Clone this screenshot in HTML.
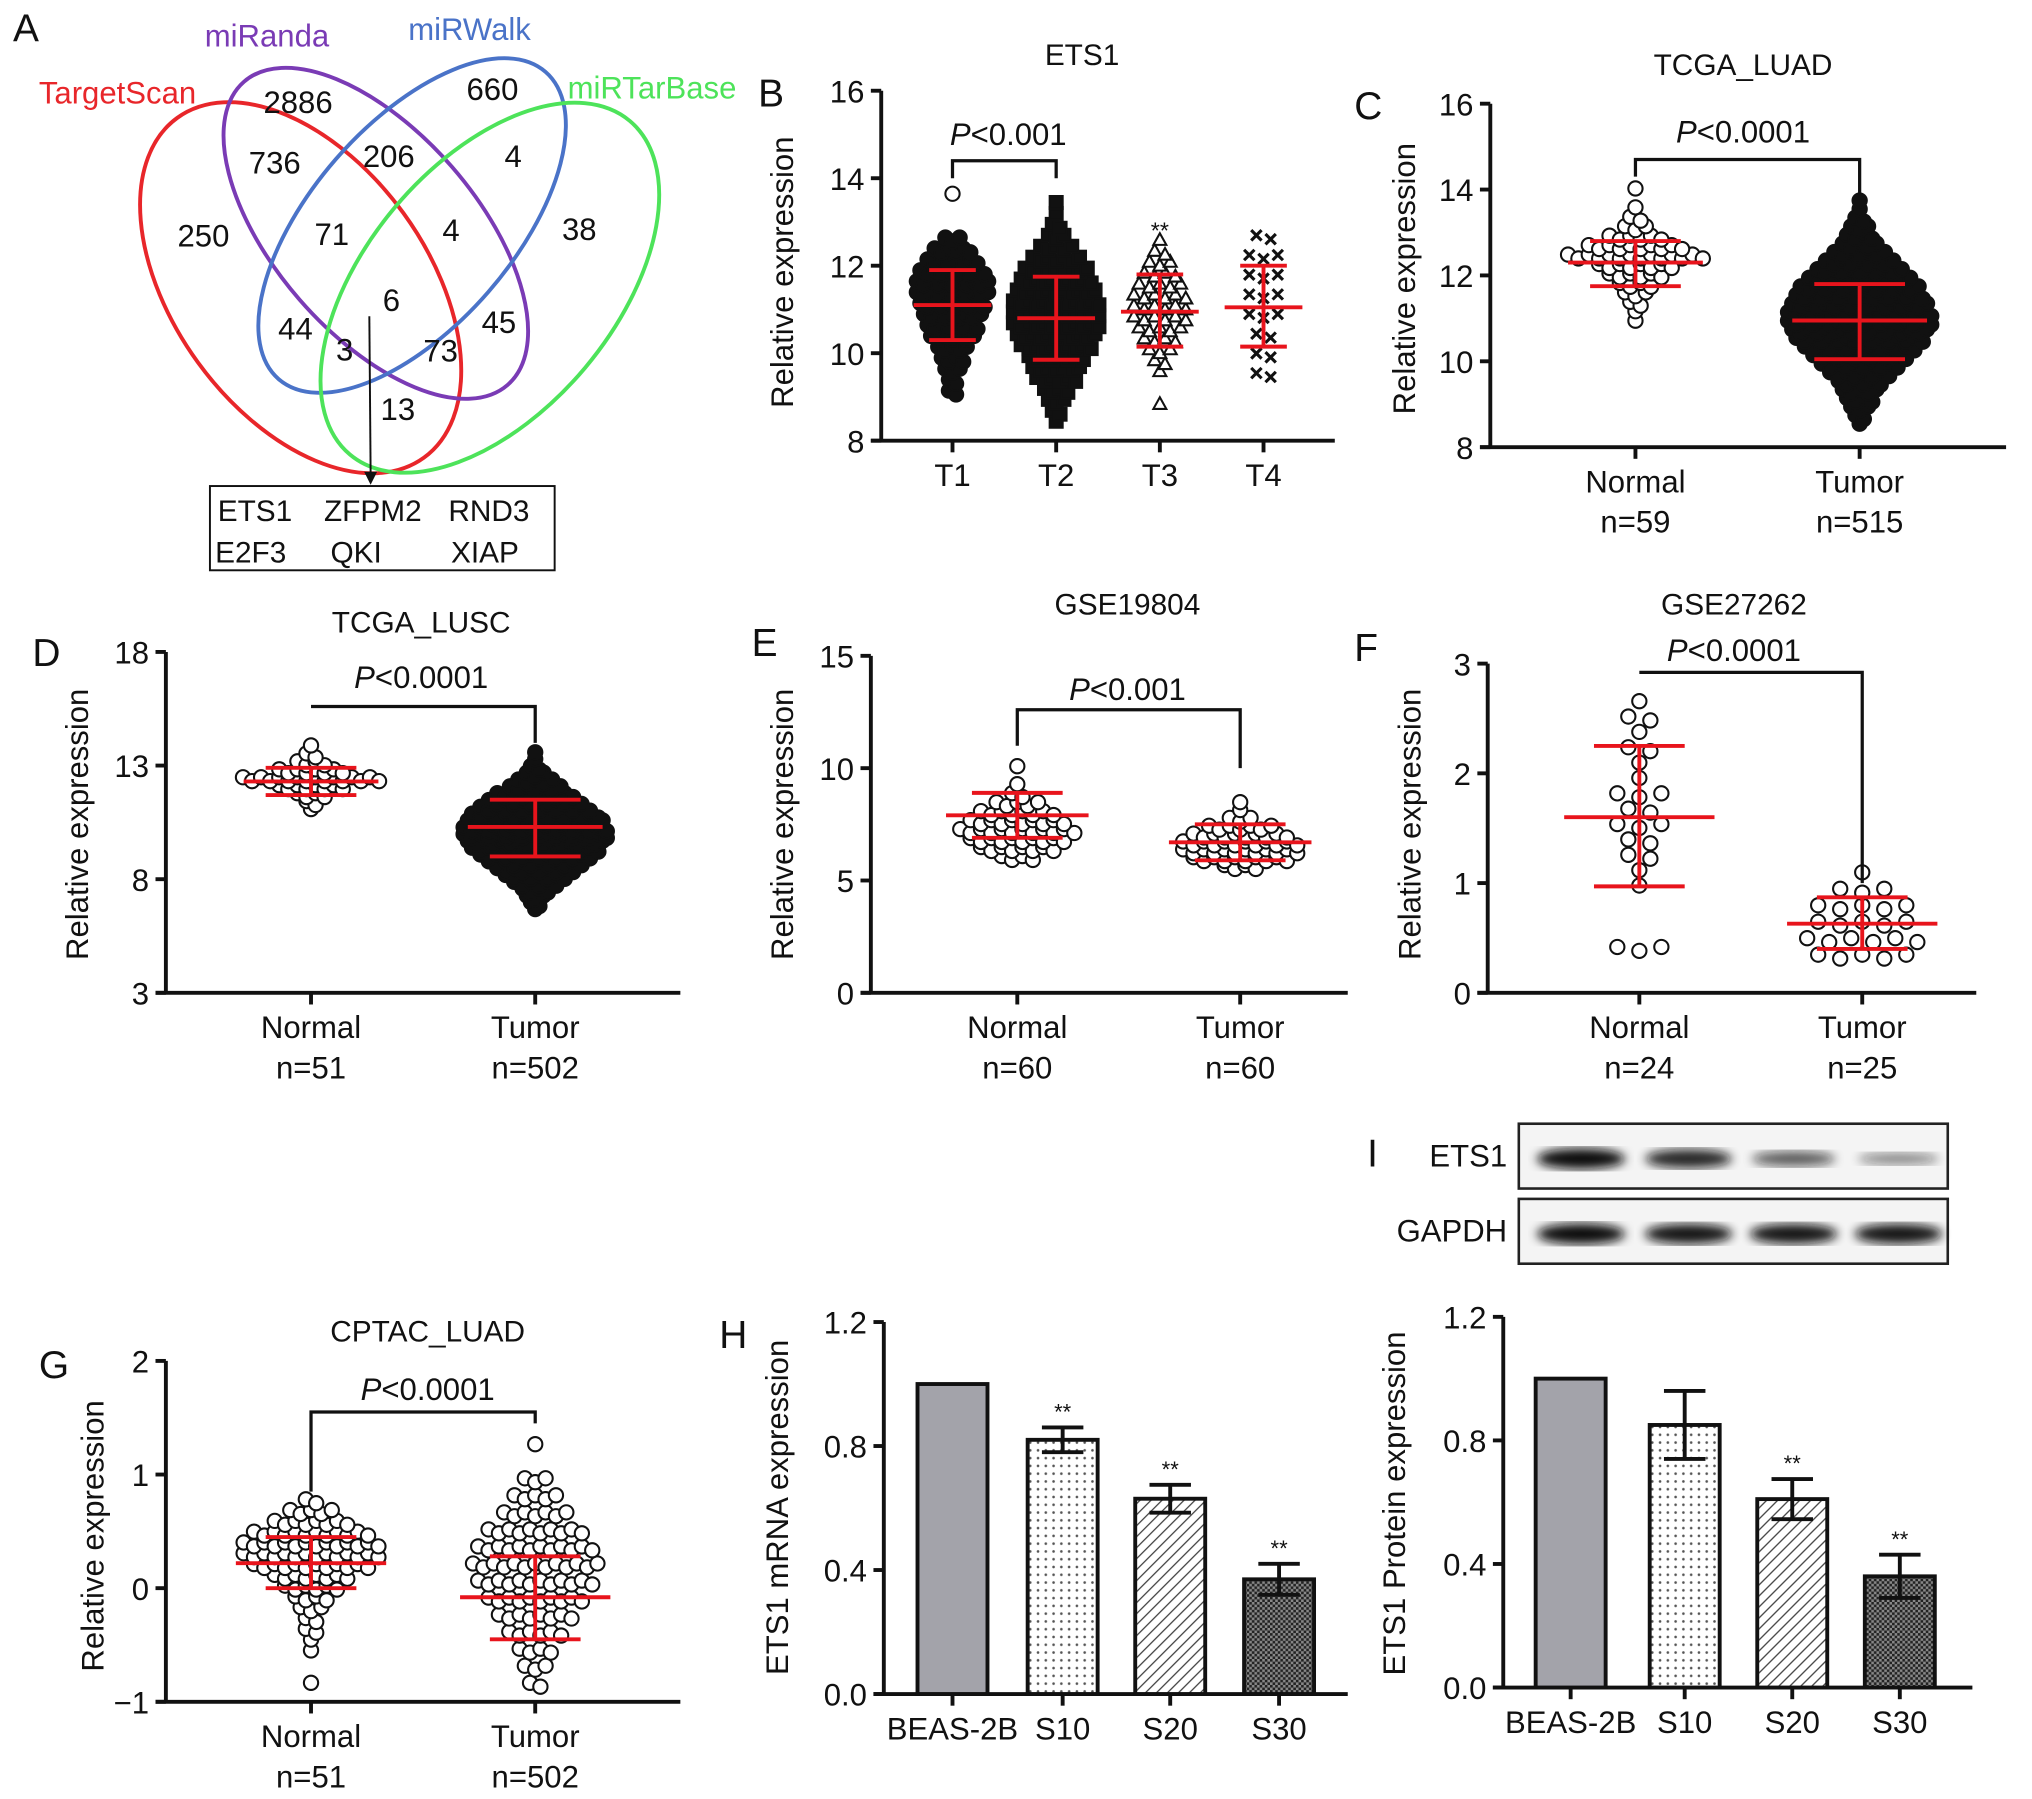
<!DOCTYPE html>
<html><head><meta charset="utf-8">
<style>
html,body{margin:0;padding:0;background:#fff;}
svg{display:block;}
text{font-family:"Liberation Sans",Arial,sans-serif;fill:#111;}
</style></head>
<body>
<svg id="fig" xmlns="http://www.w3.org/2000/svg" width="2032" height="1799" viewBox="0 0 1568 1388" preserveAspectRatio="none">
<defs>
<pattern id="dots" width="6" height="6" patternUnits="userSpaceOnUse"><rect width="6" height="6" fill="#fff"/><circle cx="3" cy="3" r="1" fill="#555"/></pattern>
<pattern id="hatch" width="6" height="6" patternUnits="userSpaceOnUse" patternTransform="rotate(45)"><rect width="6" height="6" fill="#fff"/><line x1="0" y1="0" x2="0" y2="6" stroke="#444" stroke-width="2"/></pattern>
<pattern id="cross" width="4" height="4" patternUnits="userSpaceOnUse"><rect width="4" height="4" fill="#888"/><rect width="2" height="2" fill="#222"/><rect x="2" y="2" width="2" height="2" fill="#222"/></pattern>
<filter id="blur"><feGaussianBlur stdDeviation="4"/></filter>
</defs>
<g>
<text x="10" y="32" font-size="30">A</text>
<ellipse cx="232" cy="222" rx="162" ry="98" transform="rotate(54 232 222)" fill="none" stroke="#e8262a" stroke-width="3"/>
<ellipse cx="290" cy="180" rx="155" ry="78" transform="rotate(49 290 180)" fill="none" stroke="#7a3bb5" stroke-width="3"/>
<ellipse cx="318" cy="174" rx="157" ry="78" transform="rotate(-49 318 174)" fill="none" stroke="#4a73c8" stroke-width="3"/>
<ellipse cx="378" cy="222" rx="168" ry="96" transform="rotate(-50 378 222)" fill="none" stroke="#4de35a" stroke-width="3"/>
<text x="30" y="80" font-size="24" style="fill:#e8262a">TargetScan</text>
<text x="158" y="36" font-size="24" style="fill:#7a3bb5">miRanda</text>
<text x="315" y="31" font-size="24" style="fill:#4a73c8">miRWalk</text>
<text x="438" y="76" font-size="24" style="fill:#4de35a">miRTarBase</text>
<g font-size="24" text-anchor="middle">
<text x="230" y="87">2886</text><text x="380" y="77">660</text><text x="212" y="134">736</text><text x="300" y="129">206</text><text x="396" y="129">4</text>
<text x="157" y="190">250</text><text x="256" y="189">71</text><text x="348" y="186">4</text><text x="447" y="185">38</text>
<text x="302" y="240">6</text><text x="228" y="262">44</text><text x="385" y="257">45</text><text x="266" y="278">3</text><text x="340" y="279">73</text><text x="307" y="324">13</text>
</g>
<line x1="285" y1="244" x2="286" y2="366" stroke="#111" stroke-width="1.5"/>
<polygon points="281,364 291,364 286,374" fill="#111"/>
<rect x="162" y="375" width="266" height="65" fill="none" stroke="#111" stroke-width="1.5"/>
<g font-size="23">
<text x="168" y="402">ETS1</text><text x="250" y="402">ZFPM2</text><text x="346" y="402">RND3</text>
<text x="166" y="434">E2F3</text><text x="255" y="434">QKI</text><text x="348" y="434">XIAP</text>
</g>
</g>
<g id="charts"></g>
</svg>
<script>
// ---------- data ----------
const bCategories = ["T1","T2","T3","T4"];
const bMeans = [11.1, 10.8, 10.95, 11.05];
const bUpper = [11.9, 11.75, 11.8, 12.0];
const bLower = [10.3, 9.85, 10.15, 10.15];
const bBinStart = [9.1, 8.4, 8.8, 9.5];
const bBinStep = [0.25, 0.25, 0.25, 0.45];
const bCountsT1 = [2,2,3,4,5,7,8,9,10,11,11,10,8,6,3,0,0,0,1];
const bCountsT2 = [1,2,3,4,6,7,8,10,11,12,12,12,11,10,9,7,5,3,2,1,1];
const bCountsT3 = [1,0,0,1,2,3,4,5,6,6,6,5,4,3,2,1];
const bCountsT4 = [2,2,2,3,3,3,3,2];
const cMeans = [12.3, 10.95], cUpper = [12.8, 11.8], cLower = [11.75, 10.05];
const cBinStart = [10.9, 8.5], cBinStep = [0.22, 0.2];
const cCountsNormal = [1,1,2,3,4,6,8,14,10,6,3,2,1,0,1];
const cCountsTumor = [1,2,3,4,5,6,8,10,12,14,16,17,18,18,17,16,15,13,11,9,7,5,4,3,2,1,1];
const dMeans = [12.3, 10.3], dUpper = [12.9, 11.5], dLower = [11.7, 9.0];
const dBinStart = [11.0, 6.6], dBinStep = [0.35, 0.3];
const dCountsNormal = [1,2,4,8,16,8,4,2,1];
const dCountsTumor = [1,2,3,4,6,8,10,12,14,16,17,18,18,17,16,14,12,10,7,5,3,2,1,1];
const eMeans = [7.9, 6.7], eUpper = [8.9, 7.5], eLower = [6.9, 5.9];
const eBinStart = [6.0, 5.6], eBinStep = [0.4, 0.35];
const eCountsNormal = [4,8,10,12,10,8,5,2,1,0,1];
const eCountsTumor = [4,10,12,12,10,7,3,1,1];
const fMeans = [1.6, 0.63], fUpper = [2.25, 0.87], fLower = [0.97, 0.4];
const fBinStart = [0.4, 0.33], fBinStep = [0.14, 0.15];
const fCountsNormal = [3,0,0,0,1,1,2,2,3,2,3,1,1,2,1,2,1];
const fCountsTumor = [5,6,5,5,3,1];
const gMeans = [0.22, -0.08], gUpper = [0.45, 0.28], gLower = [0.0, -0.45];
const gBinStart = [-0.85, -0.85], gBinStep = [0.095, 0.15];
const gCountsNormal = [1,0,0,1,1,2,2,3,4,6,8,12,14,14,12,8,5,2];
const gCountsTumor = [2,3,4,6,8,10,12,13,12,10,7,5,3,0,1];
const barCategories = ["BEAS-2B","S10","S20","S30"];
const hValues = [1.0, 0.82, 0.63, 0.37];
const hErrors = [0, 0.04, 0.045, 0.05];
const hStars = ["", "**", "**", "**"];
const iValues = [1.0, 0.85, 0.61, 0.36];
const iErrors = [0, 0.11, 0.065, 0.07];
const iStars = ["", "", "**", "**"];
const blotEts1 = [1.0, 0.85, 0.55, 0.3];
const blotGapdh = [1.0, 0.95, 0.95, 0.95];

// ---------- helpers ----------
const NS = "http://www.w3.org/2000/svg";
const root = document.getElementById("charts");
function mk(tag, attrs, parent) {
  const e = document.createElementNS(NS, tag);
  for (const k in attrs) e.setAttribute(k, attrs[k]);
  (parent || root).appendChild(e);
  return e;
}
function txt(s, x, y, size, anchor, parent, extra) {
  const t = mk("text", Object.assign({x: x, y: y, "font-size": size, "text-anchor": anchor || "middle"}, extra || {}), parent);
  t.textContent = s;
  return t;
}
function linScale(d0, d1, r0, r1) { return v => r0 + (v - d0) * (r1 - r0) / (d1 - d0); }

function axes(g, cfg) {
  const y = cfg.y;
  const yAx = mk("line", {x1: cfg.x0, y1: y(cfg.ticks[cfg.ticks.length-1]), x2: cfg.x0, y2: y(cfg.ticks[0]), stroke: "#111", "stroke-width": 3}, g);
  
  
  const xAx = mk("line", {x1: cfg.x0 - 8, y1: y(cfg.ticks[0]), x2: cfg.x1, y2: y(cfg.ticks[0]), stroke: "#111", "stroke-width": 3}, g);
  
  
  cfg.ticks.forEach((t, i) => {
    mk("line", {x1: cfg.x0 - 8, x2: cfg.x0, y1: y(t), y2: y(t), stroke: "#111", "stroke-width": 3}, g);
    const lab = txt(cfg.tickLabels[i], cfg.x0 - 13, y(t) + 9, 24, "end", g);
    
    
  });
  cfg.cats.forEach((c, i) => {
    const cx = cfg.xs[i];
    mk("line", {x1: cx, x2: cx, y1: y(cfg.ticks[0]), y2: y(cfg.ticks[0]) + 9, stroke: "#111", "stroke-width": 3}, g);
    const lines = c.split("\n");
    lines.forEach((l, j) => {
      const lab = txt(l, cx, y(cfg.ticks[0]) + 35 + j * 31, 24, "middle", g);
      
      
    });
  });
  const yt = txt(cfg.ytitle, 0, 0, 24, "middle", g, {transform: "translate(" + cfg.ytx + "," + cfg.yty + ") rotate(-90)"});
  
  
  if (cfg.title) {
    const tt = txt(cfg.title, cfg.titleX, cfg.titleY, 23, "middle", g);
    
    
  }
  if (cfg.letter) {
    const pl = txt(cfg.letter, cfg.letterX, cfg.letterY, 30, "start", g);
    
    
  }
}

function swarm(g, cx, y, start, step, counts, spacing, shape, fill) {
  counts.forEach((n, b) => {
    const v = start + b * step;
    for (let i = 0; i < n; i++) {
      const px = cx + (i - (n - 1) / 2) * spacing;
      const py = y(v) + ((i % 2) ? 1.5 : -1.5);
      let m;
      if (shape === "tri") m = mk("polygon", {points: (px)+","+(py-5)+" "+(px-5)+","+(py+4)+" "+(px+5)+","+(py+4), fill: "#fff", stroke: "#111", "stroke-width": 1.6}, g);
      else if (shape === "x") m = mk("path", {d: "M"+(px-4)+" "+(py-4)+"L"+(px+4)+" "+(py+4)+"M"+(px+4)+" "+(py-4)+"L"+(px-4)+" "+(py+4), stroke: "#111", "stroke-width": 2.4}, g);
      else if (shape === "sq") m = mk("rect", {x: px-5, y: py-5, width: 10, height: 10, fill: fill, stroke: "#111", "stroke-width": 1.6}, g);
      else m = mk("circle", {cx: px, cy: py, r: 5.5, fill: (n === 1 && shape === "ow") ? "#fff" : fill, stroke: "#111", "stroke-width": 1.6}, g);
      
      
    }
  });
}
function errbar(g, cx, y, mean, up, lo, half, capHalf) {
  const c = "#e8141c";
  const e1 = mk("line", {x1: cx, x2: cx, y1: y(up), y2: y(lo), stroke: c, "stroke-width": 3}, g);
  
  
  const m = mk("line", {x1: cx - half, x2: cx + half, y1: y(mean), y2: y(mean), stroke: c, "stroke-width": 3}, g);
  
  
  mk("line", {x1: cx - capHalf, x2: cx + capHalf, y1: y(up), y2: y(up), stroke: c, "stroke-width": 3}, g);
  mk("line", {x1: cx - capHalf, x2: cx + capHalf, y1: y(lo), y2: y(lo), stroke: c, "stroke-width": 3}, g);
}
function bracket(g, x1, x2, top, y1b, y2b, label, lx, ly) {
  const p = mk("path", {d: "M"+x1+" "+y1b+"V"+top+"H"+x2+"V"+y2b, fill: "none", stroke: "#111", "stroke-width": 2.5}, g);
  
  
  const t = mk("text", {x: lx, y: ly, "font-size": 24, "text-anchor": "middle"}, g);
  
  
  const it = mk("tspan", {"font-style": "italic"}, t); it.textContent = "P";
  const rest = mk("tspan", {}, t); rest.textContent = label;
}
function group(name) {
  const g = mk("g", {});
  
  
  return g;
}

// ---------- Panel B ----------
(function(){
  const g = group("panel-b-ets1-stage");
  const y = linScale(8, 16, 340, 70);
  const xs = [735, 815, 895, 975];
  axes(g, {y, x0: 680, x1: 1030, ticks: [8,10,12,14,16], tickLabels: ["8","10","12","14","16"], cats: bCategories, xs,
    ytitle: "Relative expression", ytx: 612, yty: 210, title: "ETS1", titleX: 835, titleY: 50, letter: "B", letterX: 585, letterY: 82});
  swarm(g, xs[0], y, bBinStart[0], bBinStep[0], bCountsT1, 5.5, "ow", "#111");
  swarm(g, xs[1], y, bBinStart[1], bBinStep[1], bCountsT2, 6, "sq", "#111");
  swarm(g, xs[2], y, bBinStart[2], bBinStep[2], bCountsT3, 8, "tri");
  swarm(g, xs[3], y, bBinStart[3], bBinStep[3], bCountsT4, 11, "x");
  xs.forEach((cx, i) => errbar(g, cx, y, bMeans[i], bUpper[i], bLower[i], 30, 18));
  bracket(g, 735, 815, y(14.4), y(14.0), y(14.0), "<0.001", 778, 112);
  txt("**", 895, 184, 18, "middle", g);
})();
// ---------- Panel C ----------
(function(){
  const g = group("panel-c-tcga-luad");
  const y = linScale(8, 16, 345, 80);
  const xs = [1262, 1435];
  axes(g, {y, x0: 1150, x1: 1548, ticks: [8,10,12,14,16], tickLabels: ["8","10","12","14","16"], cats: ["Normal\nn=59","Tumor\nn=515"], xs,
    ytitle: "Relative expression", ytx: 1092, yty: 215, title: "TCGA_LUAD", titleX: 1345, titleY: 58, letter: "C", letterX: 1045, letterY: 92});
  swarm(g, xs[0], y, cBinStart[0], cBinStep[0], cCountsNormal, 8, "o", "#fff");
  swarm(g, xs[1], y, cBinStart[1], cBinStep[1], cCountsTumor, 6.5, "o", "#111");
  xs.forEach((cx, i) => errbar(g, cx, y, cMeans[i], cUpper[i], cLower[i], 52, 35));
  bracket(g, 1262, 1435, y(14.7), y(14.3), y(13.9), "<0.0001", 1345, 110);
})();
// ---------- Panel D ----------
(function(){
  const g = group("panel-d-tcga-lusc");
  const y = linScale(3, 18, 766, 503);
  const xs = [240, 413];
  axes(g, {y, x0: 128, x1: 525, ticks: [3,8,13,18], tickLabels: ["3","8","13","18"], cats: ["Normal\nn=51","Tumor\nn=502"], xs,
    ytitle: "Relative expression", ytx: 68, yty: 636, title: "TCGA_LUSC", titleX: 325, titleY: 488, letter: "D", letterX: 25, letterY: 514});
  swarm(g, xs[0], y, dBinStart[0], dBinStep[0], dCountsNormal, 7, "o", "#fff");
  swarm(g, xs[1], y, dBinStart[1], dBinStep[1], dCountsTumor, 6.5, "o", "#111");
  xs.forEach((cx, i) => errbar(g, cx, y, dMeans[i], dUpper[i], dLower[i], 52, 35));
  bracket(g, 240, 413, y(15.6), y(15.6), y(14.0), "<0.0001", 325, 531);
})();
// ---------- Panel E ----------
(function(){
  const g = group("panel-e-gse19804");
  const y = linScale(0, 15, 766, 506);
  const xs = [785, 957];
  axes(g, {y, x0: 672, x1: 1040, ticks: [0,5,10,15], tickLabels: ["0","5","10","15"], cats: ["Normal\nn=60","Tumor\nn=60"], xs,
    ytitle: "Relative expression", ytx: 612, yty: 636, title: "GSE19804", titleX: 870, titleY: 474, letter: "E", letterX: 580, letterY: 506});
  swarm(g, xs[0], y, eBinStart[0], eBinStep[0], eCountsNormal, 8, "o", "#fff");
  swarm(g, xs[1], y, eBinStart[1], eBinStep[1], eCountsTumor, 8, "o", "#fff");
  xs.forEach((cx, i) => errbar(g, cx, y, eMeans[i], eUpper[i], eLower[i], 55, 35));
  bracket(g, 785, 957, y(12.6), y(11.0), y(10.0), "<0.001", 870, 540);
})();
// ---------- Panel F ----------
(function(){
  const g = group("panel-f-gse27262");
  const y = linScale(0, 3, 766, 512);
  const xs = [1265, 1437];
  axes(g, {y, x0: 1148, x1: 1525, ticks: [0,1,2,3], tickLabels: ["0","1","2","3"], cats: ["Normal\nn=24","Tumor\nn=25"], xs,
    ytitle: "Relative expression", ytx: 1096, yty: 636, title: "GSE27262", titleX: 1338, titleY: 474, letter: "F", letterX: 1045, letterY: 510});
  swarm(g, xs[0], y, fBinStart[0], fBinStep[0], fCountsNormal, 17, "o", "#fff");
  swarm(g, xs[1], y, fBinStart[1], fBinStep[1], fCountsTumor, 17, "o", "#fff");
  xs.forEach((cx, i) => errbar(g, cx, y, fMeans[i], fUpper[i], fLower[i], 58, 35));
  bracket(g, 1265, 1437, y(2.92), y(2.92), y(1.0), "<0.0001", 1338, 510);
})();
// ---------- Panel G ----------
(function(){
  const g = group("panel-g-cptac-luad");
  const y = linScale(-1, 2, 1313, 1050);
  const xs = [240, 413];
  axes(g, {y, x0: 128, x1: 525, ticks: [-1,0,1,2], tickLabels: ["\u22121","0","1","2"], cats: ["Normal\nn=51","Tumor\nn=502"], xs,
    ytitle: "Relative expression", ytx: 80, yty: 1185, title: "CPTAC_LUAD", titleX: 330, titleY: 1035, letter: "G", letterX: 30, letterY: 1063});
  swarm(g, xs[0], y, gBinStart[0], gBinStep[0], gCountsNormal, 8, "o", "#fff");
  swarm(g, xs[1], y, gBinStart[1], gBinStep[1], gCountsTumor, 8, "o", "#fff");
  xs.forEach((cx, i) => errbar(g, cx, y, gMeans[i], gUpper[i], gLower[i], 58, 35));
  bracket(g, 240, 413, y(1.55), y(0.85), y(1.45), "<0.0001", 330, 1080);
})();
// ---------- Bar panels ----------
function bars(name, letter, lx, ly, x0, x1, yTop, yBot, xs, vals, errs, stars, ytitle, ytx, yty) {
  const g = group(name);
  const y = linScale(0, 1.2, yBot, yTop);
  axes(g, {y, x0, x1, ticks: [0,0.4,0.8,1.2], tickLabels: ["0.0","0.4","0.8","1.2"], cats: barCategories, xs,
    ytitle, ytx, yty, letter, letterX: lx, letterY: ly});
  const fills = ["#a3a3aa", "url(#dots)", "url(#hatch)", "url(#cross)"];
  vals.forEach((v, i) => {
    const r = mk("rect", {x: xs[i] - 27, y: y(v), width: 54, height: y(0) - y(v), fill: fills[i], stroke: "#111", "stroke-width": 3}, g);
    
    
    if (errs[i] > 0) {
      const e = mk("path", {d: "M"+xs[i]+" "+y(v+errs[i])+"V"+y(v-errs[i])+"M"+(xs[i]-16)+" "+y(v+errs[i])+"H"+(xs[i]+16)+"M"+(xs[i]-16)+" "+y(v-errs[i])+"H"+(xs[i]+16), stroke: "#111", "stroke-width": 3, fill: "none"}, g);
      
      
    }
    if (stars[i]) txt(stars[i], xs[i], y(v + errs[i]) - 6, 17, "middle", g);
  });
}
bars("panel-h-mrna-bars", "H", 555, 1040, 682, 1040, 1020, 1307, [735, 820, 903, 987], hValues, hErrors, hStars, "ETS1 mRNA expression", 608, 1163);
bars("panel-i-protein-bars", "", 0, 0, 1160, 1522, 1016, 1302, [1212, 1300, 1383, 1466], iValues, iErrors, iStars, "ETS1 Protein expression", 1084, 1160);
// ---------- Western blot ----------
(function(){
  const g = group("panel-i-western-blot");
  txt("I", 1055, 900, 30, "start", g);
  const rows = [{lab: "ETS1", y: 867, vals: blotEts1}, {lab: "GAPDH", y: 925, vals: blotGapdh}];
  const laneX = [1220, 1303, 1384, 1465];
  rows.forEach(r => {
    const box = mk("rect", {x: 1172, y: r.y, width: 331, height: 50, fill: "#f4f4f4", stroke: "#222", "stroke-width": 2}, g);
    
    
    r.vals.forEach((v, i) => {
      const b = mk("ellipse", {cx: laneX[i], cy: r.y + 27, rx: 30 + 4 * v, ry: 3 + 5 * v, fill: "#111", opacity: 0.25 + 0.75 * v, filter: "url(#blur)"}, g);
      
      
    });
    txt(r.lab, 1163, r.y + 33, 24, "end", g);
  });
})();
</script>
</body></html>
